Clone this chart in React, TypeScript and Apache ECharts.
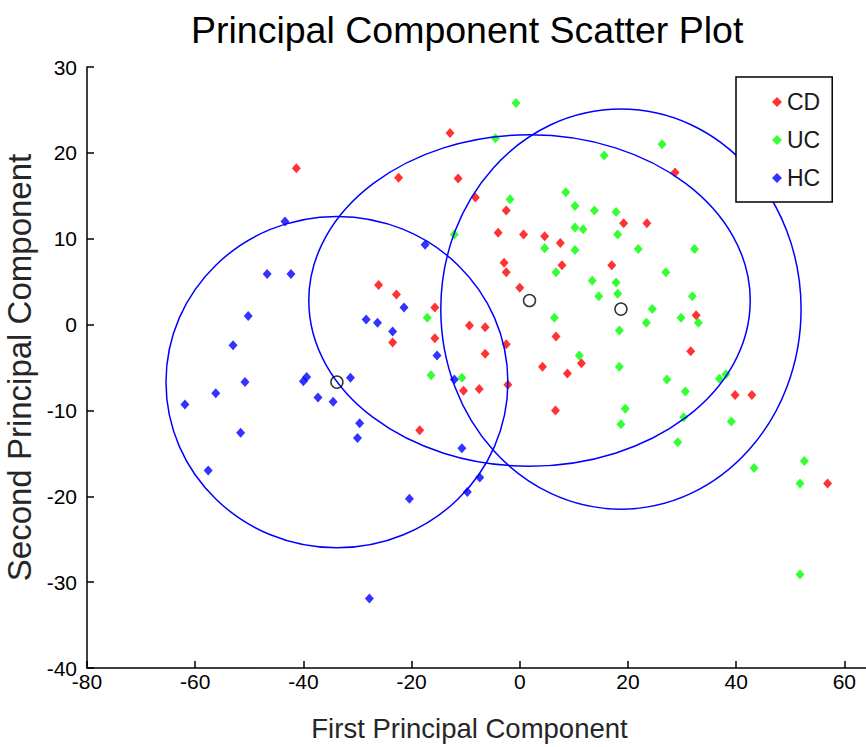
import { useEffect, useRef } from "react";
import * as echarts from "echarts";

// Scores on the first two principal components, one list per group
const cdPoints: [number, number][] = [
  [-41.3, 18.2], [-12.9, 22.3], [-22.4, 17.1], [-11.4, 17.0], [-8.2, 14.8],
  [-2.5, 13.3], [-4.0, 10.7], [0.7, 10.5], [4.6, 10.3], [7.5, 9.5],
  [19.2, 11.8], [23.5, 11.8], [28.7, 17.7], [-2.9, 7.2], [-2.5, 6.1],
  [7.8, 6.9], [17.0, 6.9], [0.0, 4.3], [-15.7, 2.0], [-9.3, -0.1],
  [-6.4, -0.3], [-15.7, -1.6], [-2.5, -2.3], [-6.4, -3.4], [6.7, -1.4],
  [32.6, 1.1], [31.6, -3.1], [4.2, -4.9], [8.8, -5.7], [11.4, -4.5],
  [-2.2, -7.0], [-7.5, -7.5], [-10.4, -7.7], [39.8, -8.2], [42.9, -8.2],
  [-26.1, 4.6], [-22.8, 3.5], [-23.5, -2.1], [-18.5, -12.3], [56.9, -18.5],
  [6.6, -10.0],
];

const ucPoints: [number, number][] = [
  [-0.7, 25.8], [-4.5, 21.7], [26.3, 21.0], [15.6, 19.7], [8.5, 15.4],
  [-1.8, 14.6], [10.2, 13.8], [13.8, 13.3], [17.8, 13.1], [10.2, 11.3],
  [11.7, 11.1], [18.1, 10.5], [4.6, 8.9], [10.2, 8.7], [21.9, 8.8],
  [32.3, 8.8], [-12.1, 10.5], [6.7, 6.1], [27.0, 6.1], [13.4, 5.1],
  [17.8, 4.9], [14.6, 3.3], [18.1, 3.6], [31.9, 3.3], [24.5, 1.8],
  [29.8, 0.8], [33.0, 0.2], [23.4, 0.2], [6.4, 0.8], [18.4, -0.7],
  [-17.1, 0.8], [11.0, -3.6], [18.4, -4.9], [-16.4, -5.9], [-10.7, -6.2],
  [27.2, -6.4], [36.9, -6.3], [38.1, -5.8], [30.6, -7.8], [19.5, -9.8],
  [18.7, -11.6], [30.3, -10.8], [29.2, -13.7], [39.1, -11.3], [43.3, -16.7],
  [52.6, -15.9], [51.8, -18.5], [51.8, -29.1],
];

const hcPoints: [number, number][] = [
  [-43.4, 12.0], [-46.7, 5.9], [-42.3, 5.9], [-50.2, 1.0], [-53.0, -2.4],
  [-50.8, -6.7], [-56.2, -8.0], [-61.9, -9.3], [-51.6, -12.6], [-57.6, -17.0],
  [-40.0, -6.6], [-39.4, -6.1], [-31.3, -6.2], [-37.3, -8.5], [-34.5, -9.0],
  [-29.6, -11.5], [-30.0, -13.2], [-20.4, -20.3], [-27.8, -31.9], [-10.7, -14.4],
  [-7.4, -17.8], [-9.7, -19.5], [-12.1, -6.4], [-28.4, 0.6], [-26.3, 0.2],
  [-21.4, 2.0], [-23.5, -0.8], [-17.5, 9.3], [-15.3, -3.6],
];

// Group centroids and the semi-axes of each group's ellipse: [cx, cy, rx, ry]
const groupEllipses: [number, number, number, number][] = [
  [1.8, 2.8, 40.8, 19.3],    // CD
  [18.7, 1.8, 33.3, 23.3],   // UC
  [-33.8, -6.7, 31.6, 19.3], // HC
];

const groupNames = ["CD", "UC", "HC"];
const groupColors = ["#ff0000", "#00ff00", "#0000ff"];

// Axis ranges; the x axis runs on past the right edge of the figure
const xRange = { min: -80, max: 64, step: 20 };
const yRange = { min: -40, max: 30, step: 10 };

const FONT = "'Liberation Sans', Arial, Helvetica, sans-serif";

export default function App() {
  const ref = useRef<HTMLDivElement>(null);

  useEffect(() => {
    if (!ref.current) return;
    const chart = echarts.init(ref.current, undefined, { renderer: "svg" });

    const groups = [cdPoints, ucPoints, hcPoints];
    const scatterSeries = groups.map((pts, i) => ({
      name: groupNames[i],
      type: "scatter",
      data: pts,
      symbol: "diamond",
      symbolSize: [9, 10],
      itemStyle: { color: groupColors[i] },
      z: 2,
    }));

    const axisLine = { show: true, onZero: false, lineStyle: { color: "#000000", width: 1.5 } };
    const axisTick = { show: true, inside: true, length: 7, lineStyle: { color: "#000000", width: 1.5 } };

    chart.setOption({
      animation: false,
      backgroundColor: "#ffffff",
      title: {
        text: "Principal Component Scatter Plot",
        left: 186,
        top: 6,
        textStyle: {
          fontFamily: FONT,
          fontSize: 37.5,
          fontWeight: "normal",
          color: "#000000",
        },
      },
      legend: {
        orient: "vertical",
        left: 736,
        top: 77,
        data: groupNames.map((n) => ({ name: n, icon: "diamond" })),
        itemWidth: 10,
        itemHeight: 10,
        itemGap: 14,
        itemTextGap: 31,
        padding: [13, 12, 12, 36],
        backgroundColor: "#ffffff",
        borderColor: "#000000",
        borderWidth: 1.5,
        borderRadius: 0,
        selectedMode: false,
        textStyle: {
          fontFamily: FONT,
          fontSize: 23,
          lineHeight: 24,
          color: "#1a1a1a",
        },
      },
      grid: {
        left: 87,
        top: 67,
        right: 0,
        height: 601,
        containLabel: false,
        outerBoundsMode: "none",
      },
      xAxis: {
        type: "value",
        min: xRange.min,
        max: xRange.max,
        interval: xRange.step,
        name: "First Principal Component",
        nameLocation: "middle",
        nameGap: 46,
        nameTextStyle: {
          fontFamily: FONT,
          fontSize: 27.5,
          color: "#262626",
          padding: [0, 14, 0, 0],
        },
        axisLine,
        axisTick,
        axisLabel: {
          fontFamily: FONT,
          fontSize: 21,
          color: "#000000",
          margin: 3,
          showMaxLabel: false,
        },
        splitLine: { show: false },
      },
      yAxis: {
        type: "value",
        min: yRange.min,
        max: yRange.max,
        interval: yRange.step,
        name: "Second Principal Component",
        nameLocation: "middle",
        nameRotate: 90,
        nameGap: 45,
        nameTextStyle: { fontFamily: FONT, fontSize: 33, color: "#262626" },
        axisLine,
        axisTick,
        axisLabel: { fontFamily: FONT, fontSize: 21, color: "#000000", margin: 10 },
        splitLine: { show: false },
      },
      series: [
        ...scatterSeries,
        {
          name: "ellipses",
          type: "custom",
          data: groupEllipses,
          silent: true,
          z: 3,
          encode: { x: 0, y: 1 },
          renderItem: (_params: any, api: any) => {
            const c = api.coord([api.value(0), api.value(1)]);
            const s = api.size([api.value(2), api.value(3)]);
            return {
              type: "ellipse",
              shape: { cx: c[0], cy: c[1], rx: s[0], ry: s[1] },
              style: { fill: "none", stroke: "#0000ff", lineWidth: 1.5 },
            };
          },
        },
        {
          name: "centroids",
          type: "scatter",
          data: groupEllipses.map((e) => [e[0], e[1]]),
          symbol: "circle",
          symbolSize: 12,
          silent: true,
          z: 4,
          itemStyle: { color: "rgba(0,0,0,0)", borderColor: "#000000", borderWidth: 1.5 },
        },
      ],
    });

    return () => chart.dispose();
  }, []);

  return (
    <div
      ref={ref}
      style={{ position: "absolute", left: 0, top: 0, width: 866, height: 747 }}
    />
  );
}
